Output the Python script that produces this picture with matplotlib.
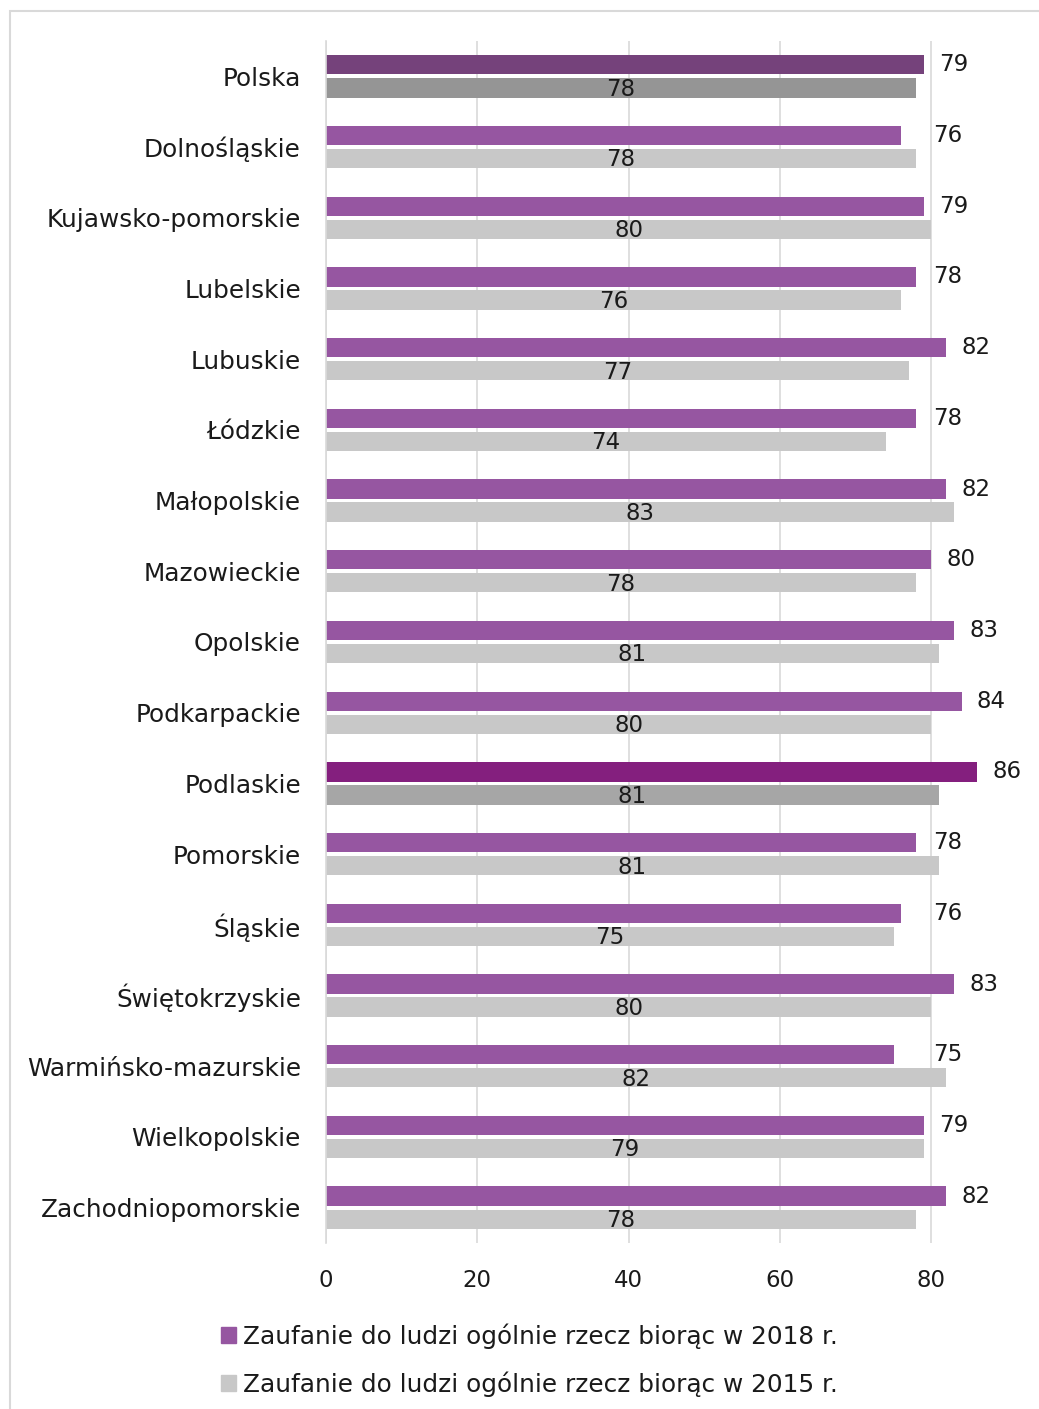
import numpy as np
import matplotlib.pyplot as plt
from matplotlib.patches import Rectangle, Patch

# data
regions = ['Polska', 'Dolnośląskie', 'Kujawsko-pomorskie', 'Lubelskie', 'Lubuskie',
           'Łódzkie', 'Małopolskie', 'Mazowieckie', 'Opolskie', 'Podkarpackie',
           'Podlaskie', 'Pomorskie', 'Śląskie', 'Świętokrzyskie',
           'Warmińsko-mazurskie', 'Wielkopolskie', 'Zachodniopomorskie']
trust_2018 = [79, 76, 79, 78, 82, 78, 82, 80, 83, 84, 86, 78, 76, 83, 75, 79, 82]
trust_2015 = [78, 78, 80, 76, 77, 74, 83, 78, 81, 80, 81, 81, 75, 80, 82, 79, 78]
x_ticks = [0, 20, 40, 60, 80]
label_2018 = 'Zaufanie do ludzi ogólnie rzecz biorąc w 2018 r.'
label_2015 = 'Zaufanie do ludzi ogólnie rzecz biorąc w 2015 r.'

plt.rcParams['font.family'] = ['DejaVu Sans']

# colours: Polska and Podlaskie are highlighted
purple, grey = '#9656A1', '#C8C8C8'
colors_2018 = [purple] * len(regions)
colors_2015 = [grey] * len(regions)
colors_2018[0], colors_2015[0] = '#75427B', '#959595'
colors_2018[10], colors_2015[10] = '#841F7E', '#A6A6A6'

W, H = 1039, 1409
fig = plt.figure(figsize=(W / 100, H / 100), dpi=100)
ax = fig.add_axes([326 / W, 1 - 1243 / H, (1007 - 326) / W, (1243 - 41) / H])

y = np.arange(len(regions))
bh = 0.273
off = 0.163
ax.barh(y - off, trust_2018, height=bh, color=colors_2018, zorder=2)
ax.barh(y + off, trust_2015, height=bh, color=colors_2015, zorder=2)

# value labels
for yi, v in zip(y, trust_2018):
    ax.annotate(str(v), (max(v, 78.2), yi - off), xytext=(11, 0),
                textcoords='offset points', ha='left', va='center',
                fontsize=16.5, color='#1a1a1a')
for yi, v in zip(y, trust_2015):
    ax.text(v / 2, yi + off + 0.02, str(v), ha='center', va='center',
            fontsize=16.5, color='#1a1a1a', zorder=3)

ax.set_xlim(0, 90)
ax.set_ylim(len(regions) - 0.5, -0.5)
ax.set_xticks(x_ticks)
ax.set_yticks(y)
ax.set_yticklabels(regions, fontsize=17.8, color='#1a1a1a')
ax.tick_params(axis='x', length=0, pad=19, labelsize=16.5, labelcolor='#1a1a1a')
ax.tick_params(axis='y', length=0, pad=18)
ax.grid(axis='x', color='#D9D9D9', linewidth=1.2, zorder=0)
ax.set_axisbelow(True)
for s in ['top', 'right', 'bottom']:
    ax.spines[s].set_visible(False)
ax.spines['left'].set_color('#D9D9D9')
ax.spines['left'].set_linewidth(1.2)

# legend
handles = [Patch(color=purple, label=label_2018), Patch(color=grey, label=label_2015)]
fig.legend(handles=handles, loc='upper left', bbox_to_anchor=(209 / W, 1 - 1311 / H),
           frameon=False, fontsize=17.8, handlelength=0.6, handleheight=0.6,
           handletextpad=0.28, labelspacing=0.9, borderpad=0, labelcolor='#1a1a1a')

# chart border
fig.add_artist(Rectangle((10 / W, -0.1), 1.2, 1.1 - 11 / H, transform=fig.transFigure,
                         fill=False, edgecolor='#D9D9D9', linewidth=1.5))

fig.savefig('out.png', dpi=100)
